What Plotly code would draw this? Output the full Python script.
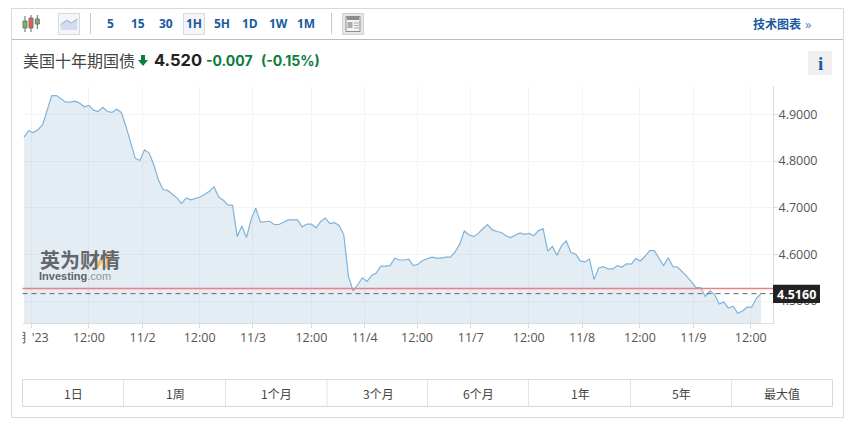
import numpy as np
import plotly.graph_objects as go

W, H = 855, 433

yields = [
    4.851, 4.865, 4.861, 4.867, 4.877, 4.909, 4.940, 4.940, 4.933, 4.926,
    4.926, 4.928, 4.924, 4.916, 4.919, 4.909, 4.906, 4.915, 4.906, 4.904,
    4.911, 4.904, 4.874, 4.838, 4.806, 4.801, 4.824, 4.817, 4.792, 4.760,
    4.739, 4.737, 4.728, 4.721, 4.709, 4.721, 4.717, 4.720, 4.723, 4.729,
    4.735, 4.745, 4.723, 4.716, 4.706, 4.705,
    4.638, 4.661, 4.636, 4.675, 4.699, 4.669, 4.670, 4.671, 4.664, 4.664,
    4.669, 4.674,
    4.674, 4.674, 4.659, 4.665, 4.665, 4.657, 4.670, 4.678, 4.666, 4.668,
    4.662, 4.642, 4.553, 4.522, 4.535, 4.550, 4.542, 4.555, 4.560, 4.575,
    4.575, 4.576, 4.592, 4.588, 4.588, 4.590, 4.576, 4.579, 4.587, 4.590,
    4.594, 4.592, 4.592, 4.594, 4.594, 4.605, 4.622, 4.650, 4.642, 4.638,
    4.645, 4.655, 4.664, 4.653, 4.649, 4.647, 4.640, 4.636, 4.641, 4.646,
    4.643, 4.645, 4.640, 4.651, 4.655, 4.607, 4.617, 4.598,
    4.619, 4.629, 4.604, 4.601, 4.586, 4.584, 4.590, 4.546, 4.571, 4.574,
    4.569, 4.569, 4.576, 4.573, 4.580, 4.579, 4.591, 4.586, 4.596, 4.608,
    4.608, 4.592, 4.576, 4.593, 4.574, 4.573, 4.564, 4.553, 4.541, 4.529,
    4.529, 4.510, 4.522, 4.514, 4.494, 4.498, 4.485, 4.489, 4.474, 4.479,
    4.487, 4.487, 4.506, 4.516,
]
x_ticks = [1.6, 14.0, 25.6, 37.9, 49.4, 62.0, 73.5, 84.8, 96.4, 108.9, 120.4, 132.9, 144.4, 156.8]
# the month label is cut off by the left edge in the original, nbsp pushes it left
x_labels = ["11月 '23\u00a0\u00a0\u00a0\u00a0", "12:00", "11/2", "12:00", "11/3", "12:00", "11/4",
            "12:00", "11/7", "12:00", "11/8", "12:00", "11/9", "12:00"]
y_ticks = [4.5, 4.6, 4.7, 4.8, 4.9]
y_labels = ["4.5000", "4.6000", "4.7000", "4.8000", "4.9000"]
prev_close = 4.527
last_price = 4.516
toolbar_labels = ["5", "15", "30", "1H", "5H", "1D", "1W", "1M"]
range_labels = ["1日", "1周", "1个月", "3个月", "6个月", "1年", "5年", "最大值"]

UI_FONT = "Open Sans, Liberation Sans, sans-serif"
NUM_FONT = "Inter, Open Sans, sans-serif"
CJK_FONT = "Noto Sans CJK SC, sans-serif"
BLUE = "#1a5a9e"
GREEN = "#0b7d3e"


def fx(x):
    return x / W


def fy(y):
    return 1 - y / H


shapes = []
annotations = []


def rect(x0, y0, x1, y1, fill=None, line=None, width=1, layer="above"):
    shapes.append(dict(type="rect", xref="paper", yref="paper", x0=fx(x0), x1=fx(x1), y0=fy(y0), y1=fy(y1),
                       fillcolor=fill or "rgba(0,0,0,0)", line=dict(color=line or "rgba(0,0,0,0)", width=width if line else 0),
                       layer=layer))


def hline(x0, x1, y, color, width=1):
    shapes.append(dict(type="line", xref="paper", yref="paper", x0=fx(x0), x1=fx(x1), y0=fy(y), y1=fy(y),
                       line=dict(color=color, width=width), layer="above"))


def vline(x, y0, y1, color, width=1):
    shapes.append(dict(type="line", xref="paper", yref="paper", x0=fx(x), x1=fx(x), y0=fy(y0), y1=fy(y1),
                       line=dict(color=color, width=width), layer="above"))


def poly(points, fill, line=None, close=True):
    d = "M " + " L ".join(f"{fx(a):.5f},{fy(b):.5f}" for a, b in points) + (" Z" if close else "")
    shapes.append(dict(type="path", xref="paper", yref="paper", path=d, fillcolor=fill,
                       line=dict(color=line or "rgba(0,0,0,0)", width=1 if line else 0), layer="above"))


def label(x, y, text, size=12, color="#333", anchor="center", family=UI_FONT):
    annotations.append(dict(xref="paper", yref="paper", x=fx(x), y=fy(y), text=text, showarrow=False,
                            xanchor=anchor, yanchor="middle", borderpad=0,
                            font=dict(size=size, color=color, family=family)))


# hide the part of the month label left of the plot
rect(0, 326, 22.5, 348, fill="#ffffff")

# card and toolbar
vline(11.5, 8.5, 417.5, "#d9d9d9")
rect(11.5, 8.5, 843.5, 417.5, line="#d9d9d9", layer="below")
hline(12, 843, 39.5, "#bcbcbc")
vline(90.5, 13, 34, "#c8c8c8")
vline(331.5, 13, 34, "#c8c8c8")

# candle icon
for cx, wt, wb, bt, bb, col in [(25, 16, 32, 21, 28, "#6cb85a"), (31, 15, 32, 18, 28, "#e8584f"),
                                (37.3, 15, 29, 19, 24, "#6cb85a")]:
    vline(cx, wt, wb, "#666666")
    rect(cx - 2, bt, cx + 2, bb, fill=col, line="#777777")

# line chart button
rect(58.5, 13.5, 79.5, 34.5, fill="#f4f6f9", line="#d5d8dc")
poly([(60.7, 24.7), (66.7, 20.3), (71.7, 23), (77.3, 19), (77.3, 30), (60.7, 30)], "#d2deef")
poly([(60.7, 24.7), (66.7, 20.3), (71.7, 23), (77.3, 19)], "rgba(0,0,0,0)", line="#8fa9cf", close=False)

# active 1H button
rect(183.5, 13.5, 204.5, 34.5, fill="#f3f5f8", line="#d8dbe0")

# layout button
rect(342.5, 13.5, 363.5, 34.5, fill="#e6e6e6", line="#d0d0d0")
rect(346, 16.5, 360, 31.5, fill="#f4f4f4", line="#8c8c8c")
rect(347, 17, 359, 20, fill="#8c8c8c")
rect(347.5, 22, 352.5, 28, fill="#ababab")
hline(354, 359, 23, "#ababab")
hline(354, 359, 25.5, "#ababab")
hline(354, 359, 28, "#ababab")

for text, cx in zip(toolbar_labels, [110, 138, 166, 194, 222, 250, 278, 306]):
    label(cx, 24, f"<b>{text}</b>", size=12, color=BLUE)
label(752, 24, "<b>技术图表</b>", size=12, color=BLUE, anchor="left", family=CJK_FONT)
label(804, 24, "»", size=13, color="#4f86c0", anchor="left")

# title row
label(22, 60, "美国十年期国债", size=16, color="#444444", anchor="left", family=CJK_FONT)
poly([(141, 55), (145, 55), (145, 60), (148, 60), (143, 66), (138, 60), (141, 60)], GREEN)
label(153, 60, "<b>4.520</b>", size=16.5, color="#222222", anchor="left", family=NUM_FONT)
label(205, 60, "<b>-0.007</b>", size=14, color=GREEN, anchor="left", family=NUM_FONT)
label(260, 60, "<b>(-0.15%)</b>", size=14, color=GREEN, anchor="left", family=NUM_FONT)
rect(808, 51, 832, 75, fill="#f0f0f0")
label(820, 63, "<b>i</b>", size=19, color=BLUE, family="Liberation Serif, DejaVu Serif, serif")

# watermark
poly([(94, 268), (98, 268), (105, 259), (101, 257)], "#f5c253")
poly([(105, 268), (109, 267), (113, 251), (107, 255)], "#f5c253")
label(39, 259, "<b>英为财情</b>", size=20, color="#63676b", anchor="left", family=CJK_FONT)
label(38, 275.5, "<b>Investing</b><span style='color:#8f9499'>.com</span>", size=11, color="#5f6367",
      anchor="left", family="Liberation Sans, sans-serif")

# price tag
rect(773, 285, 820, 303, fill="#222222")
hline(773, 820, 284.5, "#c4c4c4")
label(796.5, 294, "<b>4.5160</b>", size=12.5, color="#ffffff")

# range selector
rect(22.5, 379.5, 832.5, 406.5, line="#d9d9d9", layer="below")
for x in [123, 225, 326.5, 427, 528, 630, 731]:
    vline(x + 0.5, 380, 406, "#e2e2e2")
for text, cx in zip(range_labels, [73, 175, 276, 378, 478, 580, 681, 782]):
    label(cx, 393, text, size=12, color="#444444", family=CJK_FONT)

fig = go.Figure()
fig.add_trace(
    go.Scatter(
        x=np.arange(len(yields)),
        y=yields,
        mode="lines",
        line=dict(color="#7fb3d9", width=1.2),
        fill="tozeroy",
        fillcolor="rgba(105,155,194,0.18)",
        hoverinfo="skip",
    )
)
fig.update_xaxes(
    automargin=False,
    domain=[fx(22.5), fx(773)],
    range=[-0.32, 161.6],
    tickmode="array",
    tickvals=x_ticks,
    ticktext=x_labels,
    ticks="outside",
    ticklen=4,
    tickcolor="#dddddd",
    tickangle=0,
    ticklabeloverflow="allow",
    ticklabelstandoff=-1,
    showline=True,
    linecolor="#dddddd",
    gridcolor="#f3f4f6",
    zeroline=False,
    tickfont=dict(size=12.5, color="#555555", family=UI_FONT),
)
fig.update_yaxes(
    automargin=False,
    domain=[fy(323.3), fy(86)],
    range=[4.4525, 4.9606],
    side="right",
    tickmode="array",
    tickvals=y_ticks,
    ticktext=y_labels,
    ticks="outside",
    ticklen=4,
    tickcolor="#dddddd",
    ticklabelstandoff=-2,
    showline=True,
    linecolor="#dddddd",
    gridcolor="#f3f4f6",
    zeroline=False,
    tickfont=dict(size=12.5, color="#555555", family=UI_FONT),
)
fig.add_hline(y=prev_close, line=dict(color="#f07f80", width=1.5))
fig.add_hline(y=last_price, line=dict(color="#666666", width=1, dash="5px,4px"))
fig.update_layout(
    width=W,
    height=H,
    margin=dict(l=0, r=0, t=0, b=0),
    paper_bgcolor="#ffffff",
    plot_bgcolor="#ffffff",
    showlegend=False,
    shapes=list(fig.layout.shapes) + shapes,
    annotations=annotations,
)
fig.write_html("out.html", config={"displayModeBar": False},
               post_script="document.body.style.margin='0';document.body.style.overflow='hidden';")
